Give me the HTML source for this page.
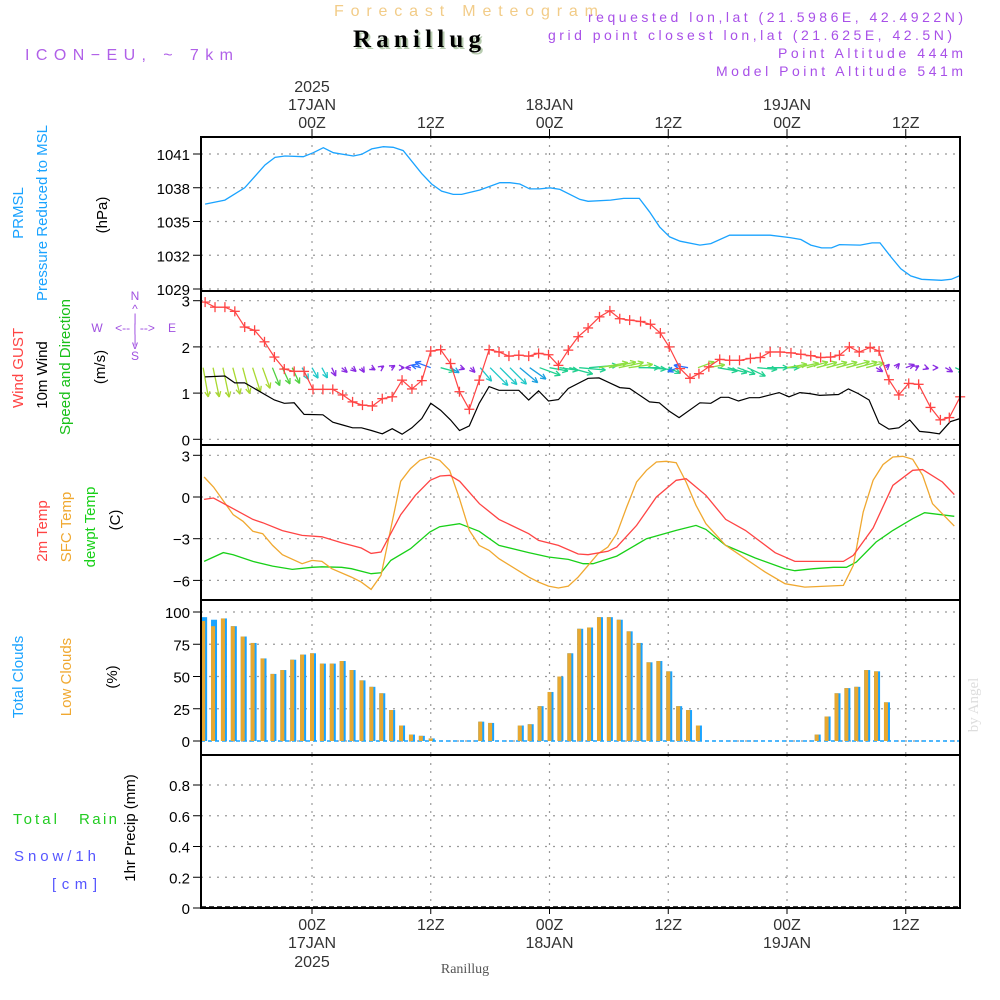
<!DOCTYPE html>
<html><head><meta charset="utf-8"><style>
html,body{margin:0;padding:0;background:#fff}
svg{display:block}
text{font-family:"Liberation Sans",sans-serif}
</style></head><body>
<svg id="c" width="1000" height="1000" viewBox="0 0 1000 1000" xmlns="http://www.w3.org/2000/svg">
<text x="334" y="16" font-size="16" fill="#f2cc88" textLength="264">Forecast Meteogram</text>
<text x="355" y="49" font-size="25" font-weight="bold" style="font-family:'Liberation Serif',serif" fill="#b8ccb0" textLength="128">Ranillug</text>
<text x="353" y="47" font-size="25" font-weight="bold" style="font-family:'Liberation Serif',serif" fill="#000" textLength="128">Ranillug</text>
<text x="25" y="60" font-size="16" fill="#b060e8" textLength="208">ICON−EU, ~ 7km</text>
<text x="588" y="22" font-size="14" fill="#a850e8" textLength="375">requested lon,lat (21.5986E, 42.4922N)</text>
<text x="548" y="40" font-size="14" fill="#a850e8" textLength="404">grid point closest lon,lat (21.625E, 42.5N)</text>
<text x="778" y="58" font-size="14" fill="#a850e8" textLength="185">Point Altitude 444m</text>
<text x="716" y="76" font-size="14" fill="#a850e8" textLength="247">Model Point Altitude 541m</text>
<text x="978" y="705" font-size="15" fill="#ddd" style="font-family:'Liberation Serif',serif" transform="rotate(-90 978 705)" text-anchor="middle">by Angel</text>
<text x="465" y="973" font-size="14" fill="#555" style="font-family:'Liberation Serif',serif" text-anchor="middle">Ranillug</text>
<g id="g"></g>
</svg>
<script>
// ---- data (hours relative to 00Z 17JAN) ----
const presT=[-10.8,-8.8,-6.8,-4.75,-3.74,-2.73,-0.88,0.13,1.14,2.15,4.17,5.02,6.03,7.2,8.21,9.22,11.08,12.09,13.1,14.27,15.12,16.97,18.99,20,21,22,23,24.04,25.05,27.07,27.9,30.17,31.5,33.07,34.1,35.13,36.15,37.2,39.2,40.3,42.2,44.2,46.3,48.3,49.4,50.4,51.5,52.5,53.3,55.4,56.6,57.4,58.5,59.5,60.5,61.6,63.6,64.6,65.5];
const presV=[1036.55,1036.9,1038.0,1040.02,1040.7,1040.82,1040.76,1041.12,1041.56,1041.12,1040.82,1040.97,1041.45,1041.65,1041.6,1041.3,1039.28,1038.33,1037.7,1037.41,1037.41,1037.8,1038.45,1038.45,1038.33,1037.9,1037.9,1038.0,1037.85,1036.96,1036.8,1036.9,1037.05,1037.05,1035.86,1034.52,1033.63,1033.25,1032.9,1033.04,1033.78,1033.78,1033.78,1033.57,1033.4,1032.9,1032.65,1032.65,1032.95,1032.9,1033.1,1033.1,1031.85,1030.8,1030.16,1029.86,1029.77,1029.86,1030.2];
const gustT=[-10.8,-9.8,-8.8,-7.8,-6.8,-5.8,-4.8,-3.8,-2.8,-1.8,-0.8,0.1,1.1,2.1,3.1,4.1,5.1,6.1,7.1,8.1,9.1,10.1,11.1,12,13,14,14.9,15.9,16.9,17.9,18.9,19.9,20.9,21.9,22.9,23.9,24.9,25.9,26.9,27.9,29.05,30.1,31.1,32.1,33.2,34.2,35.2,36.1,37.2,38.2,39.1,40.1,41.2,42.2,43.2,44.3,45.3,46.3,47.3,48.4,49.4,50.4,51.4,52.4,53.3,54.3,55.3,56.4,57.3,58.3,59.3,60.3,61.3,62.5,63.5,64.4,65.5];
const gustV=[2.97,2.86,2.86,2.77,2.43,2.36,2.11,1.78,1.52,1.47,1.47,1.08,1.08,1.08,0.96,0.81,0.74,0.72,0.88,0.92,1.28,1.09,1.27,1.91,1.94,1.64,1.03,0.65,1.28,1.94,1.89,1.8,1.82,1.8,1.86,1.83,1.6,1.93,2.22,2.41,2.65,2.78,2.61,2.58,2.55,2.49,2.3,2.0,1.53,1.32,1.42,1.57,1.73,1.71,1.71,1.75,1.77,1.89,1.89,1.87,1.84,1.81,1.77,1.78,1.82,2.0,1.89,1.99,1.91,1.29,0.96,1.21,1.19,0.69,0.42,0.47,0.92];
const windT=[-10.8,-8.8,-7.8,-6.8,-3.8,-2.8,-1.8,-0.8,1.1,2.1,3.1,4.1,5,6,7.1,8.1,9.1,10.1,11.1,12,13,14,14.9,15.9,16.9,17.9,18.9,20.9,21.9,22.9,23.9,24.9,25.9,27.9,29,31.1,32.1,34.1,35.1,36.1,37.1,39.2,40.3,41.3,42.1,43.1,44.2,45.2,47.2,48.2,49.3,50.3,51.3,53.2,54.2,55.2,56.3,57.3,58.3,59.3,60.4,61.4,62.4,63.4,64.5,65.5];
const windV=[1.35,1.37,1.22,1.22,0.85,0.78,0.79,0.54,0.53,0.37,0.31,0.25,0.25,0.19,0.12,0.23,0.11,0.25,0.45,0.78,0.63,0.42,0.19,0.29,0.78,1.14,1.06,1.06,0.85,1.05,0.83,0.86,1.1,1.32,1.33,1.12,1.1,0.81,0.79,0.61,0.47,0.79,0.78,0.91,0.91,0.83,0.9,0.9,1.01,0.92,1.01,0.99,0.95,0.97,1.09,0.99,0.85,0.35,0.22,0.25,0.42,0.17,0.15,0.12,0.38,0.45];
const arrowT=[-11,-10,-9,-8,-7,-6,-5,-4,-3,-2,-1,0,1,2,3,4,5,6,7,8,9,10,11,12,13,14,15,16,17,18,19,20,21,22,23,24,25,26,27,28,29,30,31,32,33,34,35,36,37,38,39,40,41,42,43,44,45,46,47,48,49,50,51,52,53,54,55,56,57,58,59,60,61,62,63,64,65];
const arrowDir=[80,78,78,75,75,72,70,68,65,65,62,60,62,65,40,40,60,30,-35,-30,0,180,195,200,15,30,20,45,50,45,45,45,40,35,20,10,8,15,5,-5,-10,-12,-12,-8,0,5,10,25,160,190,-20,-10,10,15,20,25,5,0,0,-10,-12,-15,-15,-15,-15,-15,-15,-15,30,-45,-50,-20,-30,20,0,30,25];
const arrowSpd=[1.35,1.36,1.37,1.25,1.22,1.15,1.0,0.88,0.82,0.79,0.6,0.55,0.53,0.42,0.33,0.27,0.25,0.2,0.14,0.2,0.15,0.25,0.45,0.75,0.65,0.45,0.2,0.3,0.8,1.14,1.08,1.06,1.06,0.9,1.0,0.85,0.86,1.1,1.2,1.3,1.33,1.25,1.15,1.1,0.95,0.8,0.7,0.6,0.5,0.65,0.79,0.78,0.91,0.91,0.85,0.9,0.9,0.95,1.01,0.92,1.01,0.99,0.95,0.96,0.97,1.09,0.99,0.85,0.35,0.22,0.25,0.42,0.17,0.15,0.12,0.38,0.45];
const t2T=[-10.9,-9.95,-7.96,-5.97,-4.98,-2.99,-1,1,2.99,4.98,5.97,6.97,8.96,10.45,11.94,12.94,13.93,14.93,16.92,18.9,21.9,22.9,24.9,26.9,27.9,29.9,30.8,32.8,34.8,36.8,37.8,39.8,41.8,43.8,46.8,48.8,53.7,54.7,56.7,58.7,60.7,61.7,63.7,64.9];
const t2V=[-0.17,-0.07,-0.84,-1.61,-1.85,-2.42,-2.76,-2.86,-3.29,-3.67,-4.06,-3.96,-1.27,0.12,1.2,1.51,1.56,1.13,-0.48,-1.61,-2.64,-3.12,-3.48,-4.1,-4.15,-3.91,-3.6,-2.04,0,1.2,1.32,0.12,-1.61,-2.4,-4.01,-4.63,-4.63,-4.2,-2.23,0.84,1.92,1.97,1.08,0.17];
const sfcT=[-10.9,-9.95,-7.96,-6.97,-5.97,-4.98,-3.98,-2.99,-1,0,1,2,3.98,4.98,5.97,6.97,8.96,9.95,10.9,11.9,12.9,13.9,14.9,15.9,16.9,17.9,18.9,21.9,22.9,23.9,24.9,25.9,26.9,27.9,28.9,29.9,30.8,31.8,32.8,33.8,34.8,35.8,36.8,37.8,38.8,39.8,41.8,43.8,45.8,47.8,49.8,53.7,54.7,55.7,56.7,57.7,58.7,59.7,60.7,61.7,62.7,64.9];
const sfcV=[1.44,0.72,-1.27,-1.75,-2.47,-2.64,-3.48,-4.15,-4.8,-4.56,-4.63,-5.16,-5.76,-6.12,-6.65,-5.64,1.13,2.04,2.64,2.88,2.64,1.92,-0.12,-2.4,-3.48,-3.84,-4.44,-5.76,-6.12,-6.41,-6.55,-6.41,-5.76,-4.92,-4.08,-3.6,-2.64,-0.72,1.08,1.92,2.52,2.57,2.47,1.08,-0.6,-1.92,-3.48,-4.44,-5.4,-6.24,-6.48,-6.36,-4.92,-1.08,1.2,2.33,2.88,2.93,2.71,1.56,-0.48,-2.09];
const dewT=[-10.9,-8.96,-7.96,-5.97,-3.98,-1.99,0,1,2.99,3.98,5.97,6.97,7.96,9.95,11.9,12.9,14.9,16.9,18.9,21.9,23.9,25.9,27.4,28.4,30.8,33.8,36.8,38.8,39.8,41.8,44.8,47.8,48.8,50.7,52.7,54,55,57,58.7,60.7,61.9,64.9];
const dewV=[-4.63,-4.0,-4.15,-4.63,-4.97,-5.21,-5.06,-5.02,-5.06,-5.16,-5.52,-5.45,-4.56,-3.72,-2.52,-2.14,-1.92,-2.47,-3.48,-4.0,-4.32,-4.49,-4.8,-4.8,-4.25,-3.0,-2.4,-2.04,-2.33,-3.48,-4.39,-5.16,-5.3,-5.16,-5.06,-5.06,-4.68,-3.24,-2.4,-1.56,-1.13,-1.39];
const cloudT=[-11,-10,-9,-8,-7,-6,-5,-4,-3,-2,-1,0,1,2,3,4,5,6,7,8,9,10,11,12,13,14,15,16,17,18,19,20,21,22,23,24,25,26,27,28,29,30,31,32,33,34,35,36,37,38,39,40,41,42,43,44,45,46,47,48,49,50,51,52,53,54,55,56,57,58,59,60,61,62,63,64,65];
const totalCloud=[96,94,95,89,81,76,64,52,55,63,67,68,60,60,62,55,47,42,37,24,12,5,4,2,0,0,0,0,15,14,0,0,12,13,27,38,50,68,87,88,96,96,94,85,76,61,62,54,27,24,12,0,0,0,0,0,0,0,0,0,0,0,5,19,37,41,42,55,54,30,0,0,0,0,0,0,0];
const lowCloud=[93,89,95,89,81,76,64,52,55,63,67,68,60,60,62,55,47,42,37,24,12,5,4,2,0,0,0,0,15,14,0,0,12,13,27,38,50,68,87,88,96,96,94,85,76,61,62,54,27,24,12,0,0,0,0,0,0,0,0,0,0,0,5,19,37,41,42,55,54,30,0,0,0,0,0,0,0];
const precipT=[];
const precipV=[];
const presTicks=[1041,1038,1035,1032,1029];
const windTicks=[3,2,1,0];
const tempTicks=[3,0,-3,-6];
const cloudTicks=[100,75,50,25,0];
const precipTicks=[0.8,0.6,0.4,0.2,0];
const precipTickLabels=["0.8","0.6","0.4","0.2","0"];
const timeTicks=[0,12,24,36,48,60];
const timeLabels=["00Z","12Z","00Z","12Z","00Z","12Z"];
const dateLabels=["17JAN","","18JAN","","19JAN",""];

// ---- axes ----
const X0=201,X1=960;
const x=h=>312+h*9.896;
const yP=p=>154+(1041-p)*11.25;
const yW=v=>439.3-v*46.2;
const yT=t=>497-t*13.9;
const yC=c=>741-c*1.29;
const yR=p=>908-p*153.75;
const NS="http://www.w3.org/2000/svg";
const G=document.getElementById('g');
function mk(tag,attrs,parent){const e=document.createElementNS(NS,tag);for(const k in attrs)e.setAttribute(k,attrs[k]);(parent||G).appendChild(e);return e;}
function txt(s,xx,yy,attrs,parent){const e=mk('text',Object.assign({x:xx,y:yy},attrs),parent);e.textContent=s;return e;}

const panels=[[137,291,'pressure'],[291,445,'wind'],[445,600,'temperature'],[600,755,'clouds'],[755,908,'precip']];
panels.forEach(([t,b,n])=>{
  const g=mk('g',{});
  
  
  timeTicks.forEach(h=>{mk('line',{x1:x(h),x2:x(h),y1:t,y2:b,stroke:'#999','stroke-dasharray':'2,6','stroke-width':1.2},g);});
});
function yGrid(ticks,fy,labels,name){
  const g=mk('g',{});
  
  
  ticks.forEach((v,i)=>{
    mk('line',{x1:X0,x2:X1,y1:fy(v),y2:fy(v),stroke:'#999','stroke-dasharray':'2,6','stroke-width':1.2},g);
    mk('line',{x1:193,x2:X0,y1:fy(v),y2:fy(v),stroke:'#000','stroke-width':1},g);
    txt(labels?labels[i]:String(v).replace('-','−'),190,fy(v)+6,{'font-size':15,'text-anchor':'end',fill:'#000'},g);
  });
}
yGrid(presTicks,yP,null,'pressure-y-axis');
yGrid(windTicks,yW,null,'wind-y-axis');
yGrid(tempTicks,yT,null,'temp-y-axis');
yGrid(cloudTicks,yC,null,'cloud-y-axis');
yGrid(precipTicks,yR,precipTickLabels,'precip-y-axis');

function clip(id,t,b){const cp=mk('clipPath',{id:id});mk('rect',{x:X0,y:t,width:X1-X0,height:b-t},cp);}
panels.forEach(([t,b,n])=>clip('cl-'+n,t,b));
function line(T,V,fy,color,name,cl,w){
  const d=T.map((h,i)=>(i?'L':'M')+x(h).toFixed(1)+','+fy(V[i]).toFixed(1)).join('');
  const p=mk('path',{d:d,fill:'none',stroke:color,'stroke-width':w||1.3,'clip-path':'url(#cl-'+cl+')'});
  
  
  return p;
}
line(presT,presV,yP,'#1aa3ff','pressure-line','pressure');
const ag=mk('g',{'clip-path':'url(#cl-wind)'});


function arrowColor(a,s){
  if(s<0.45)return '#8a2be2';
  if(a>=70&&a<=90)return '#a8d830';
  if(a>=64&&a<70)return '#50d040';
  if(a>=45&&a<64)return '#20c8c8';
  if(a>=30&&a<45)return '#1aa0e0';
  if(a>90||a<-30)return '#2a70ff';
  return a<-5?'#8ee040':'#20d090';
}
arrowT.forEach((h,i)=>{
  const a=arrowDir[i]*Math.PI/180,L=arrowSpd[i]*22;
  const x1=x(h),y1=yW(1.55),x2=x1+L*Math.cos(a),y2=y1+L*Math.sin(a);
  const c=arrowColor(arrowDir[i],arrowSpd[i]);
  const g=mk('g',{stroke:c,'stroke-width':1.3,fill:'none'},ag);
  
  
  mk('line',{x1:x1,y1:y1,x2:x2,y2:y2},g);
  [0.45,-0.45].forEach(o=>{mk('line',{x1:x2,y1:y2,x2:x2-6*Math.cos(a+o),y2:y2-6*Math.sin(a+o)},g);});
});
line(windT,windV,yW,'#000','wind-speed-line','wind',1.2);
line(gustT,gustV,yW,'#ff4444','wind-gust-line','wind',1.2);
const gm=mk('g',{stroke:'#ff4444','stroke-width':1.3});


gustT.forEach((h,i)=>{const cx=x(h),cy=yW(gustV[i]);mk('line',{x1:cx-5,x2:cx+5,y1:cy,y2:cy},gm);mk('line',{x1:cx,x2:cx,y1:cy-5,y2:cy+5},gm);});
line(dewT,dewV,yT,'#18d018','dewpoint-line','temperature');
line(sfcT,sfcV,yT,'#f0a830','sfc-temp-line','temperature');
line(t2T,t2V,yT,'#ff4444','temp-2m-line','temperature');
const cg=mk('g',{'clip-path':'url(#cl-clouds)'});


mk('line',{x1:X0,x2:X1,y1:741,y2:741,stroke:'#1aa3ff','stroke-width':1.5,'stroke-dasharray':'4,3'},cg);
cloudT.forEach((h,i)=>{
  const cx=x(h);
  if(totalCloud[i]>0){const r=mk('rect',{x:cx-2,y:yC(totalCloud[i]),width:6,height:741-yC(totalCloud[i]),fill:'#1aa3ff'},cg);
    
    }
  if(lowCloud[i]>0){const r=mk('rect',{x:cx-2,y:yC(lowCloud[i]),width:4,height:741-yC(lowCloud[i]),fill:'#e8a830'},cg);
    
    }
});
precipT.forEach((h,i)=>{const r=mk('rect',{x:x(h)-3,y:yR(precipV[i]),width:6,height:908-yR(precipV[i]),fill:'#22cc22'});
  
  });
mk('line',{x1:X0,x2:X1,y1:907,y2:907,stroke:'#000','stroke-width':1.5,'stroke-dasharray':'5,3'});
panels.forEach(([t,b,n])=>{mk('rect',{x:X0,y:t,width:X1-X0,height:b-t,fill:'none',stroke:'#000','stroke-width':2});});
const ta=mk('g',{fill:'#333','font-size':16,'text-anchor':'middle'});


timeTicks.forEach((h,i)=>{
  mk('line',{x1:x(h),x2:x(h),y1:129,y2:137,stroke:'#000'},ta);
  mk('line',{x1:x(h),x2:x(h),y1:908,y2:914,stroke:'#000'},ta);
  txt(timeLabels[i],x(h),128,{},ta);
  txt(timeLabels[i],x(h),930,{},ta);
  if(dateLabels[i]){txt(dateLabels[i],x(h),110,{},ta);txt(dateLabels[i],x(h),948,{},ta);}
});
txt('2025',x(0),92,{},ta);txt('2025',x(0),967,{},ta);
function rl(s,cx,cy,color,name){const e=txt(s,cx,cy,{'font-size':15,fill:color,'text-anchor':'middle',transform:'rotate(-90 '+cx+' '+cy+')'});}
rl('PRMSL',23,213,'#1aa3ff','prmsl-label');
rl('Pressure Reduced to MSL',47,213,'#1aa3ff','pressure-label');
rl('(hPa)',107,215,'#000','hpa-unit');
rl('Wind GUST',23,368,'#ff4444','gust-label');
rl('10m Wind',47,375,'#000','wind-label');
rl('Speed and Direction',70,367,'#18c018','speed-direction-label');
rl('(m/s)',105,367,'#000','ms-unit');
rl('2m Temp',47,531,'#ff4444','temp2m-label');
rl('SFC Temp',71,527,'#f0a830','sfc-temp-label');
rl('dewpt Temp',95,527,'#18d018','dewpt-label');
rl('(C)',120,520,'#000','c-unit');
rl('Total Clouds',23,677,'#1aa3ff','total-clouds-label');
rl('Low Clouds',71,677,'#f0a830','low-clouds-label');
rl('(%)',117,677,'#000','pct-unit');
rl('1hr Precip (mm)',135,828,'#000','precip-unit');
const pl=mk('g',{'font-size':15});


txt('Total',13,824,{fill:'#22cc22',textLength:44},pl);
txt('Rain',79,824,{fill:'#22cc22',textLength:38},pl);
txt('Snow/1h',14,861,{fill:'#5555ff',textLength:82},pl);
txt('[cm]',52,889,{fill:'#5555ff',textLength:45},pl);
const cp=mk('g',{'font-size':12,fill:'#a050e0','text-anchor':'middle'});


txt('N',135,300,{},cp);txt('^',135,313,{},cp);txt('|',135,322,{},cp);
txt('W',97,332,{},cp);txt('<-- | -->',135,332,{},cp);txt('E',172,332,{},cp);
txt('|',135,343,{},cp);txt('v',135,349,{},cp);txt('S',135,360,{},cp);
</script>
</body></html>
